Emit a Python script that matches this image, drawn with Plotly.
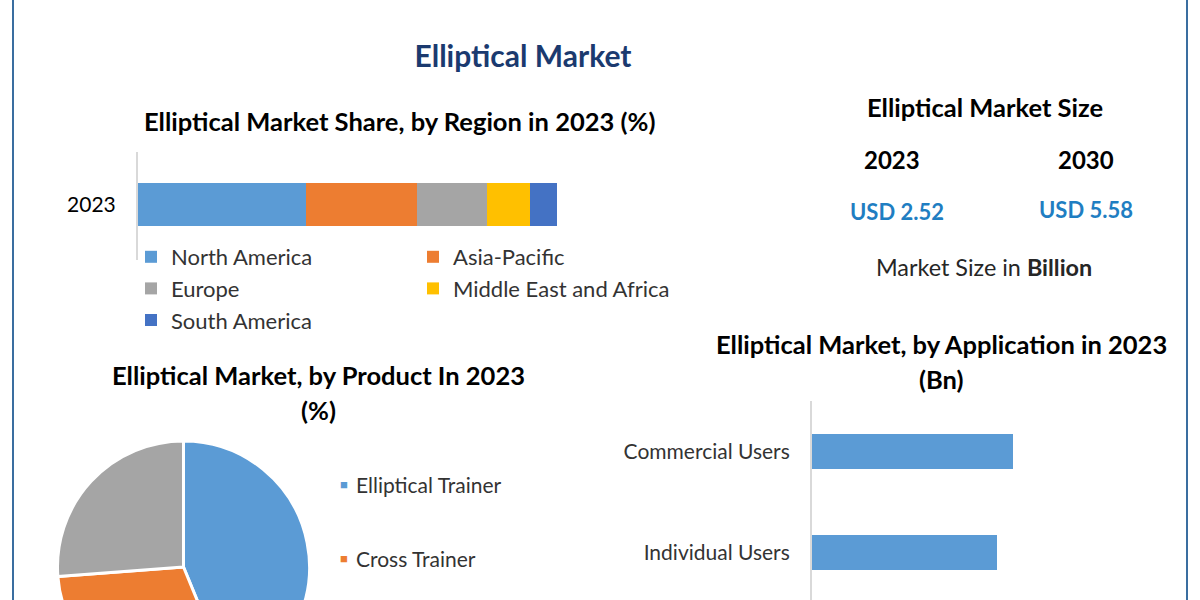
#!/usr/bin/env python3
# Elliptical market infographic, page is cut off below 600 px like the source image
import plotly.graph_objects as go

# Data
regions = ['North America', 'Asia-Pacific', 'Europe', 'Middle East and Africa', 'South America']
region_share = [40.2, 26.3, 16.7, 10.3, 6.5]
region_colors = ['#5B9BD5', '#ED7D31', '#A5A5A5', '#FFC000', '#4472C4']
region_legends = ['legend', 'legend2', 'legend', 'legend2', 'legend']
region_year = ['2023']

# third slice has no readable label, its legend row is below the crop
products = ['Elliptical Trainer', 'Cross Trainer', '']
product_share = [43.8, 30.0, 26.2]

applications = ['Individual Users', 'Commercial Users']
application_size = [1.21, 1.32]

size_years = ['2023', '2030']
size_values = ['USD 2.52', 'USD 5.58']

FIG_W = 1200
FIG_H = 720  # taller than the window, the pie runs off the bottom
FONT = 'Lato'


def px(x):
    return x / FIG_W


def py(y):
    return 1 - y / FIG_H


def label(text, x, y, size, color='#000000', bold=True, anchor='center'):
    return dict(
        text=f'<b>{text}</b>' if bold else text,
        x=px(x), y=py(y), xref='paper', yref='paper',
        xanchor=anchor, yanchor='middle', showarrow=False,
        font=dict(family=FONT, size=size, color=color),
    )


fig = go.Figure()

# Stacked region bar
for name, val, col, leg in zip(regions, region_share, region_colors, region_legends):
    fig.add_trace(go.Bar(
        x=[val], y=region_year, orientation='h', name=name,
        marker=dict(color=col, line=dict(width=0)),
        width=0.4, xaxis='x', yaxis='y', legend=leg,
    ))

# Product pie
fig.add_trace(go.Pie(
    labels=products, values=product_share, sort=False, direction='clockwise', rotation=0,
    textinfo='none', marker=dict(colors=region_colors[:3], line=dict(color='white', width=3)),
    domain=dict(x=[px(57.5), px(309.5)], y=[py(693), py(441)]),
    showlegend=False,
))

# Application bars
fig.add_trace(go.Bar(
    x=application_size, y=applications, orientation='h', width=0.35,
    marker=dict(color='#5B9BD5', line=dict(width=0)),
    xaxis='x2', yaxis='y2', showlegend=False,
))

axis_line = dict(showline=True, linecolor='#D9D9D9', linewidth=2, showgrid=False, zeroline=False, ticks='')
legend_base = dict(bgcolor='rgba(0,0,0,0)', borderwidth=0, xanchor='left', yanchor='top', traceorder='normal')

annotations = [
    label('Elliptical Market Share, by Region in 2023 (%)', 399, 121, 25.5),
    label('Elliptical Market, by Product In 2023', 318, 375, 25.5),
    label('(%)', 318, 410, 25.5),
    label('Elliptical Market, by Application in 2023', 941, 344, 25.5),
    label('(Bn)', 941, 379, 25.5),
    label('Elliptical Market Size', 985, 107, 25.5),
    label(size_years[0], 892, 159, 24),
    label(size_years[1], 1086, 159, 24),
    label(size_values[0], 897, 211, 22, '#1F7EC2'),
    label(size_values[1], 1086, 209, 22, '#1F7EC2'),
    label('Market Size in <b>Billion</b>', 984, 267, 23.4, '#262626', bold=False),
]

# Pie legend rows are further apart than a plotly legend allows
for i, (name, col) in enumerate(zip(products[:2], region_colors)):
    row_y = 484 + i * 74
    annotations.append(label('■', 344, row_y, 13, col, bold=False))
    annotations.append(label(name, 354, row_y, 21, '#333333', bold=False, anchor='left'))

fig.update_layout(
    width=FIG_W, height=FIG_H,
    margin=dict(l=0, r=0, t=0, b=0),
    paper_bgcolor='white', plot_bgcolor='white',
    barmode='stack',
    font=dict(family=FONT, color='#262626'),
    title=dict(
        text='<b>Elliptical Market</b>', x=px(523), y=py(56), xanchor='center', yanchor='middle',
        font=dict(family=FONT, size=30, color='#1B3A6F'),
    ),
    xaxis=dict(domain=[px(138), px(557)], range=[0, 100], visible=False, anchor='y'),
    yaxis=dict(
        domain=[py(260), py(152)], range=[-0.514, 0.486], type='category', anchor='x',
        tickfont=dict(size=21, color='#000000'), ticklabelstandoff=16, **axis_line,
    ),
    xaxis2=dict(domain=[px(812), px(1163)], range=[0, 2.3], visible=False, anchor='y2'),
    yaxis2=dict(
        domain=[py(603), py(401)], range=[-0.5, 1.5], type='category', anchor='x2',
        tickfont=dict(size=21, color='#333333'), ticklabelstandoff=16, **axis_line,
    ),
    legend=dict(x=px(131), y=py(236), font=dict(size=22, color='#333333'), **legend_base),
    legend2=dict(x=px(413), y=py(236), font=dict(size=22, color='#333333'), **legend_base),
    annotations=annotations,
    shapes=[
        dict(type='line', xref='paper', yref='paper', x0=px(13), x1=px(13), y0=0, y1=1,
             line=dict(color='#3A6EA0', width=2)),
        dict(type='line', xref='paper', yref='paper', x0=px(1187), x1=px(1187), y0=0, y1=1,
             line=dict(color='#3A6EA0', width=2)),
    ],
)

fig.write_html(
    "out.html",
    config=dict(displayModeBar=False),
    post_script="document.body.style.margin='0';document.body.style.overflow='hidden';document.documentElement.style.overflow='hidden';",
)
